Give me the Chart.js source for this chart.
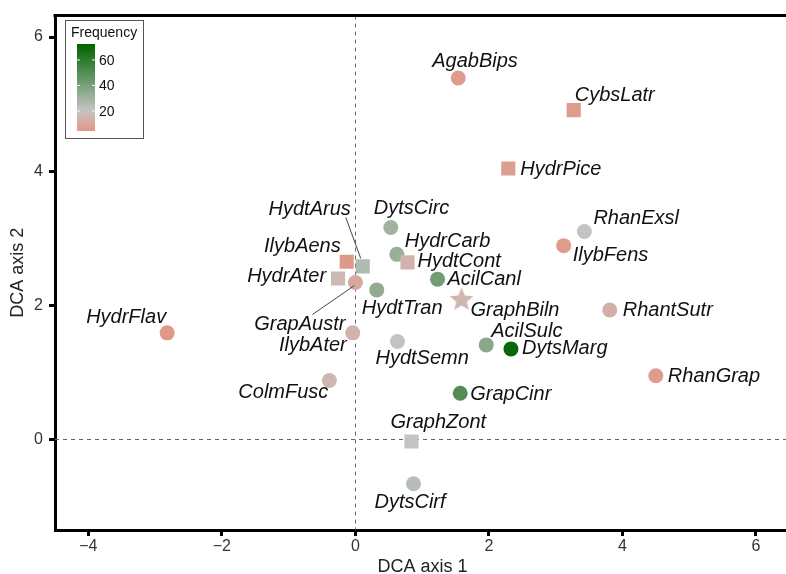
<!DOCTYPE html>
<html><head><meta charset="utf-8">
<script src="https://cdn.jsdelivr.net/npm/chart.js@4/dist/chart.umd.min.js"></script>
<style>html,body{margin:0;padding:0;background:#fff;overflow:hidden;}#wrap{width:800px;height:574px;}</style>
</head><body><div id="wrap"><canvas id="c" width="800" height="574" style="width:800px;height:574px"></canvas></div>
<script>
// ---- data ----
const species = ['HydrFlav','AgabBips','CybsLatr','HydrPice','RhanExsl','IlybFens','DytsCirc','HydrCarb','HydtCont','AcilCanl','GraphBiln','RhantSutr','AcilSulc','DytsMarg','RhanGrap','GrapCinr','HydtSemn','HydtTran','ColmFusc','IlybAter','GrapAustr','IlybAens','HydrAter','HydtArus','GraphZont','DytsCirf'];
const axis1 = [-2.82,1.54,3.27,2.29,3.43,3.12,0.53,0.62,0.78,1.23,1.59,3.81,1.96,2.33,4.50,1.57,0.63,0.32,-0.39,-0.04,0.00,-0.13,-0.26,0.11,0.84,0.87];
const axis2 = [1.59,5.39,4.91,4.04,3.10,2.89,3.16,2.76,2.64,2.39,2.08,1.93,1.41,1.35,0.95,0.69,1.46,2.23,0.88,1.59,2.34,2.65,2.40,2.58,-0.03,-0.66];
const frequency = [6,7,7,8,21,7,30,32,14,42,15,13,36,70,7,50,21,34,15,14,11,6,16,26,21,24];
const group = ['circle','circle','square','square','circle','circle','circle','circle','square','circle','star','circle','circle','circle','circle','circle','circle','circle','circle','circle','circle','square','square','square','square','circle'];
const xTicks = [-4,-2,0,2,4,6];
const yTicks = [0,2,4,6];
const legendTicks = [20,40,60];
const legendTitle = 'Frequency';
const xTitle = 'DCA axis 1';
const yTitle = 'DCA axis 2';

// ---- layout / style (not data) ----
// label placement: [align, dx, dy] relative to point centre (pixels)
const labelPlace = [
  ['right',-1,-15],['left',-26,-17],['left',1,-15],['left',12,1],['left',9,-13],['left',9,10],
  ['left',-17,-19],['left',8,-13],['left',10,-1],['left',10,0],['left',9,10],['left',13,0],
  ['left',5,-13],['left',11,0],['left',12,1],['left',10,1],['left',-22,17],['left',-15,19],
  ['right',-1,12],['right',-6,13],['right',-10,42],['right',-6,-15],['right',-12,-2],['right',-12,-57],
  ['left',-21,-19],['left',-39,19]
];
const leaders = { 'HydtArus':[-17,-49,-2,-8], 'GrapAustr':[-43,32,-1,3] };
const colourStops = [[5,[226,150,132]],[20,[198,198,198]],[72,[0,100,0]]];
const legendRange = [4.3,72.5];

function freqRGB(f){
  const s = colourStops;
  if (f <= s[0][0]) return s[0][1];
  for (let i=1;i<s.length;i++){
    if (f <= s[i][0]){
      const t=(f-s[i-1][0])/(s[i][0]-s[i-1][0]);
      return s[i-1][1].map((c,k)=>Math.round(c+(s[i][1][k]-c)*t));
    }
  }
  return s[s.length-1][1];
}
function freqColour(f){ const c=freqRGB(f); return `rgb(${c[0]},${c[1]},${c[2]})`; }
function makeStar(colour){
  const c=document.createElement('canvas'); c.width=28; c.height=28;
  const g=c.getContext('2d'); g.fillStyle=colour; g.beginPath();
  for(let k=0;k<10;k++){ const r=k%2===0?12.5:5.6; const a=-Math.PI/2+k*Math.PI/5; g.lineTo(14+r*Math.cos(a),14+r*Math.sin(a)); }
  g.closePath(); g.fill(); return c;
}

const points = axis1.map((x,i)=>({x:x,y:axis2[i]}));
const FONT = "'Liberation Sans', Arial, Helvetica, sans-serif";

const overlay = {
  id:'overlay',
  beforeDatasetsDraw(chart){
    const {ctx,chartArea:a,scales:{x,y}} = chart;
    ctx.save();
    ctx.strokeStyle='#666'; ctx.lineWidth=1; ctx.setLineDash([4,4]);
    const x0=Math.round(x.getPixelForValue(0))+0.5, y0=Math.round(y.getPixelForValue(0))+0.5;
    ctx.beginPath(); ctx.moveTo(x0,a.top); ctx.lineTo(x0,a.bottom); ctx.stroke();
    ctx.beginPath(); ctx.moveTo(a.left,y0); ctx.lineTo(a.right,y0); ctx.stroke();
    ctx.restore();
  },
  afterDraw(chart){
    const {ctx,chartArea:a} = chart;
    const meta = chart.getDatasetMeta(0);
    ctx.save();
    // top + right frame
    ctx.strokeStyle='#000'; ctx.lineWidth=3; ctx.setLineDash([]);
    ctx.beginPath(); ctx.moveTo(a.left-1.5,a.top); ctx.lineTo(a.right,a.top); ctx.lineTo(a.right,a.bottom); ctx.stroke();
    // leaders
    ctx.strokeStyle='#444'; ctx.lineWidth=1;
    species.forEach((s,i)=>{
      const L=leaders[s]; if(!L) return;
      const p=meta.data[i];
      ctx.beginPath(); ctx.moveTo(p.x+L[0],p.y+L[1]); ctx.lineTo(p.x+L[2],p.y+L[3]); ctx.stroke();
    });
    // labels
    ctx.fillStyle='#111'; ctx.font=`italic 20px ${FONT}`; ctx.textBaseline='middle';
    species.forEach((s,i)=>{
      const p=meta.data[i]; const [al,dx,dy]=labelPlace[i];
      ctx.textAlign=al; ctx.fillText(s,p.x+dx,p.y+dy);
    });
    // colour legend
    const bx=65,by=20,bw=78,bh=118;
    ctx.fillStyle='#fff'; ctx.fillRect(bx,by,bw,bh);
    ctx.strokeStyle='#555'; ctx.lineWidth=1; ctx.strokeRect(bx+0.5,by+0.5,bw,bh);
    ctx.fillStyle='#111'; ctx.font=`14px ${FONT}`; ctx.textAlign='left'; ctx.textBaseline='middle';
    ctx.fillText(legendTitle,71,33);
    const gx=77,gw=18,gt=44,gb=131;
    const grad=ctx.createLinearGradient(0,gb,0,gt);
    for(let k=0;k<=20;k++){ const f=legendRange[0]+(legendRange[1]-legendRange[0])*k/20; grad.addColorStop(k/20,freqColour(f)); }
    ctx.fillStyle=grad; ctx.fillRect(gx,gt,gw,gb-gt);
    legendTicks.forEach(v=>{
      const yy=gb-(v-legendRange[0])/(legendRange[1]-legendRange[0])*(gb-gt);
      ctx.strokeStyle='rgba(255,255,255,0.9)'; ctx.lineWidth=1;
      ctx.beginPath(); ctx.moveTo(gx,yy); ctx.lineTo(gx+3,yy); ctx.moveTo(gx+gw-3,yy); ctx.lineTo(gx+gw,yy); ctx.stroke();
      ctx.fillStyle='#111'; ctx.fillText(String(v),99,yy+1);
    });
    ctx.restore();
  }
};

new Chart(document.getElementById('c'),{
  type:'scatter',
  data:{datasets:[{
    data:points,
    backgroundColor:frequency.map(freqColour),
    borderWidth:0,
    pointStyle:group.map((g,i)=>g==='circle'?'circle':(g==='square'?'rect':makeStar(freqColour(frequency[i])))),
    pointRadius:group.map(g=>g==='square'?10:7.5),
    pointHoverRadius:group.map(g=>g==='square'?10:7.5)
  }]},
  options:{
    responsive:false, animation:false, events:[],
    layout:{padding:{top:11,left:0,right:4,bottom:0}},
    plugins:{legend:{display:false},tooltip:{enabled:false}},
    scales:{
      x:{type:'linear',min:-4.5,max:6.51,
        afterFit(s){s.height=44;},
        afterBuildTicks(s){s.ticks=xTicks.map(v=>({value:v}));},
        grid:{drawOnChartArea:false,tickLength:6,tickWidth:3,tickColor:'#000'},
        border:{color:'#000',width:3},
        ticks:{font:{family:FONT,size:16},color:'#333',padding:1,callback:v=>(v<0?'\u2212':'')+Math.abs(v)},
        title:{display:true,text:xTitle,color:'#222',font:{family:FONT,size:18,lineHeight:1},padding:{top:0,bottom:-2}}
      },
      y:{type:'linear',min:-1.35,max:6.32,
        afterFit(s){s.width=55;},
        afterBuildTicks(s){s.ticks=yTicks.map(v=>({value:v}));},
        grid:{drawOnChartArea:false,tickLength:6,tickWidth:3,tickColor:'#000'},
        border:{color:'#000',width:3},
        ticks:{font:{family:FONT,size:16},color:'#333',padding:6},
        title:{display:true,text:yTitle,color:'#222',font:{family:FONT,size:18,lineHeight:1},padding:{top:9,bottom:0}}
      }
    }
  },
  plugins:[overlay]
});
</script></body></html>
